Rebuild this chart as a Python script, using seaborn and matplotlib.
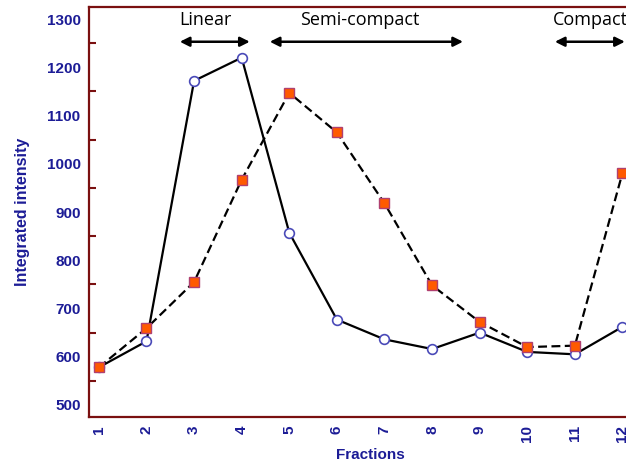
import matplotlib
matplotlib.use("Agg")
import matplotlib.pyplot as plt
import numpy as np
import pandas as pd
import seaborn as sns
from matplotlib.ticker import MultipleLocator

fractions = [1, 2, 3, 4, 5, 6, 7, 8, 9, 10, 11, 12]
series_circle = [578, 632, 1172, 1220, 857, 677, 636, 616, 650, 610, 605, 662]
series_square = [578, 659, 755, 967, 1147, 1065, 918, 748, 672, 620, 623, 981]

regions = ["Linear", "Semi-compact", "Compact"]
region_start = [2.70, 4.59, 10.58]
region_end = [4.17, 8.65, 12.05]
region_label_x = [3.24, 6.47, 10.53]
region_label_ha = ["center", "center", "left"]

df = pd.DataFrame({"Fractions": fractions, "circle": series_circle, "square": series_square})

sns.set_style("white")
plt.rcParams["font.family"] = ["Liberation Sans", "DejaVu Sans"]

spine_col = "#7a1010"
text_col = "#1c1c96"

fig = plt.figure(figsize=(6.26, 4.67), dpi=100)
ax = fig.add_axes([0.142, 0.107, 0.898, 0.878])

sns.lineplot(data=df, x="Fractions", y="circle", ax=ax, color="black", lw=1.6,
             marker="o", markersize=7, markerfacecolor="white",
             markeredgecolor="#4a4ab8", markeredgewidth=1.2, zorder=3)
sns.lineplot(data=df, x="Fractions", y="square", ax=ax, color="black", lw=1.6,
             linestyle=(0, (4, 2)), marker="s", markersize=7,
             markerfacecolor="#ff5a00", markeredgecolor="#b04070",
             markeredgewidth=1.0, zorder=4)

ax.set_xlim(0.79, 12.6)
ax.set_ylim(475, 1325)
ax.set_xticks(fractions)
ax.set_xticklabels([str(f) for f in fractions], rotation=90)
ax.yaxis.set_major_locator(MultipleLocator(100))
ax.yaxis.set_minor_locator(MultipleLocator(50))

for side in ["left", "bottom", "top"]:
    ax.spines[side].set_color(spine_col)
    ax.spines[side].set_linewidth(1.6)
ax.spines["right"].set_visible(False)

ax.tick_params(axis="both", which="major", direction="in", length=8, width=2,
               color=spine_col, labelcolor=text_col, labelsize=11, pad=6)
ax.tick_params(axis="y", which="minor", direction="in", length=5, width=1.5,
               color=spine_col, left=True)
for lab in ax.get_xticklabels() + ax.get_yticklabels():
    lab.set_fontweight("bold")

ax.set_xlabel("Fractions", color=text_col, fontsize=11, fontweight="bold", labelpad=4)
ax.set_ylabel("Integrated intensity", color=text_col, fontsize=11.5, fontweight="bold", labelpad=12)

for name, x0, x1, xl, ha in zip(regions, region_start, region_end, region_label_x, region_label_ha):
    ax.annotate("", xy=(x0, 1253), xytext=(x1, 1253),
                arrowprops=dict(arrowstyle="<|-|>", color="black", lw=1.8,
                                mutation_scale=14, shrinkA=0, shrinkB=0))
    ax.text(xl, 1298, name, ha=ha, va="center", fontsize=13,
            family=["Open Sans", "DejaVu Sans"], color="black")

ax.grid(False)
fig.savefig("out.png", dpi=100)
